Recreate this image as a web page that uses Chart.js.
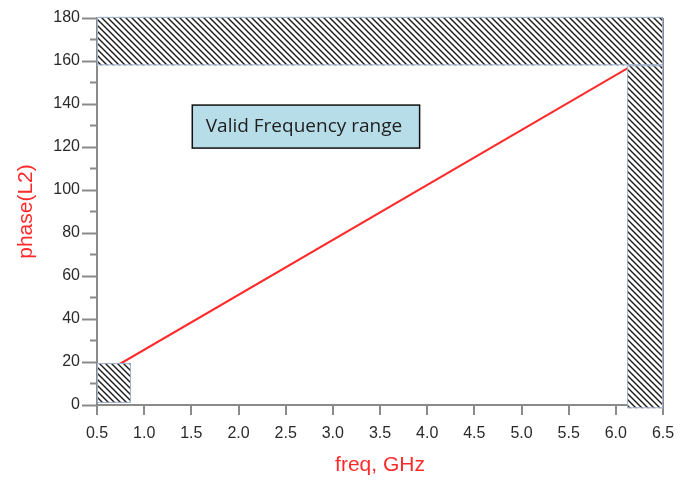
<!DOCTYPE html>
<html>
<head>
<meta charset="utf-8">
<script src="https://cdn.jsdelivr.net/npm/chart.js@4.4.0/dist/chart.umd.min.js"></script>
<style>
body { margin: 0; background: #fff; }
#wrap { width: 680px; height: 482px; }
</style>
</head>
<body>
<div id="wrap"><canvas id="phaseChart"></canvas></div>
<script>
// sweep endpoints: freq (GHz) and phase(L2) (deg)
var freq = [0.5, 6.5];
var phase = [12.9, 166.2];

// hatched out-of-range zones: [freqFrom, freqTo, phaseFrom, phaseTo]
var zoneTop = [0.5, 6.5, 158, 180.5];
var zoneRight = [6.12, 6.5, -1.5, 158];
var zoneLeft = [0.5, 0.86, 1, 19.5];

// note box
var noteBox = [1.51, 3.92, 119.5, 139.5];
var noteText = "Valid Frequency range";

var axisGray = '#8a8a8a';
var points = freq.map(function(f, i) { return { x: f, y: phase[i] }; });

function makeHatch(ctx) {
    var c = document.createElement('canvas');
    c.width = 6;
    c.height = 6;
    var g = c.getContext('2d');
    g.fillStyle = '#fff';
    g.fillRect(0, 0, 6, 6);
    g.strokeStyle = '#1a1a1a';
    g.lineWidth = 1.4;
    g.beginPath();
    g.moveTo(-1, -1); g.lineTo(7, 7);
    g.moveTo(-1, 5); g.lineTo(1, 7);
    g.moveTo(5, -1); g.lineTo(7, 1);
    g.stroke();
    return ctx.createPattern(c, 'repeat');
}

var zonesPlugin = {
    id: 'zones',
    afterDatasetsDraw: function(chart) {
        var ctx = chart.ctx;
        var xs = chart.scales.x, ys = chart.scales.y;
        var hatch = makeHatch(ctx);
        ctx.save();
        [zoneTop, zoneRight, zoneLeft].forEach(function(z) {
            var x0 = xs.getPixelForValue(z[0]), x1 = xs.getPixelForValue(z[1]);
            var y0 = ys.getPixelForValue(z[3]), y1 = ys.getPixelForValue(z[2]);
            ctx.fillStyle = hatch;
            ctx.fillRect(x0, y0, x1 - x0, y1 - y0);
            ctx.strokeStyle = '#9fb0cc';
            ctx.lineWidth = 1;
            ctx.strokeRect(x0 + 0.5, y0 + 0.5, x1 - x0 - 1, y1 - y0 - 1);
        });

        var bx0 = xs.getPixelForValue(noteBox[0]), bx1 = xs.getPixelForValue(noteBox[1]);
        var by0 = ys.getPixelForValue(noteBox[3]), by1 = ys.getPixelForValue(noteBox[2]);
        ctx.fillStyle = '#b7dde8';
        ctx.fillRect(bx0, by0, bx1 - bx0, by1 - by0);
        ctx.strokeStyle = '#111';
        ctx.lineWidth = 1.5;
        ctx.strokeRect(bx0, by0, bx1 - bx0, by1 - by0);
        ctx.fillStyle = '#1e1e1e';
        ctx.font = '19px "Open Sans"';
        ctx.textAlign = 'center';
        ctx.textBaseline = 'middle';
        ctx.fillText(noteText, (bx0 + bx1) / 2 - 2, (by0 + by1) / 2);
        ctx.restore();
    }
};

new Chart(document.getElementById('phaseChart'), {
    type: 'line',
    data: {
        datasets: [{
            data: points,
            borderColor: '#ff2b2b',
            borderWidth: 2,
            pointRadius: 0,
            tension: 0
        }]
    },
    plugins: [zonesPlugin],
    options: {
        responsive: true,
        maintainAspectRatio: false,
        animation: false,
        layout: { padding: { top: 18, right: 17, left: 0, bottom: 0 } },
        plugins: {
            legend: { display: false },
            tooltip: { enabled: false }
        },
        scales: {
            x: {
                type: 'linear',
                min: 0.5,
                max: 6.5,
                z: 1,
                afterFit: function(s) {
                    s.height = 77;
                    s.paddingLeft = 0;
                    s.paddingRight = 0;
                },
                border: { color: axisGray, width: 2 },
                grid: {
                    drawOnChartArea: true,
                    lineWidth: 2,
                    color: function(c) { return c.tick && c.tick.value === 6.5 ? axisGray : 'rgba(0,0,0,0)'; },
                    tickColor: axisGray,
                    tickWidth: 2,
                    tickLength: 10
                },
                ticks: {
                    stepSize: 0.5,
                    padding: 9,
                    maxRotation: 0,
                    color: '#2a2a2a',
                    font: { family: '"Liberation Sans", Arial', size: 16 },
                    callback: function(v) { return v.toFixed(1); }
                },
                title: {
                    display: true,
                    text: 'freq, GHz',
                    color: '#ff2b2b',
                    font: { family: '"Liberation Sans", Arial', size: 21 },
                    padding: { top: 0, bottom: 4 }
                }
            },
            y: {
                min: 0,
                max: 180,
                z: 1,
                afterFit: function(s) {
                    s.width = 97;
                    s.paddingTop = 0;
                    s.paddingBottom = 0;
                },
                border: { color: axisGray, width: 2 },
                grid: {
                    drawOnChartArea: false,
                    tickColor: axisGray,
                    tickWidth: 2,
                    tickLength: 15,
                    // minor ticks only show their inner 7px
                    tickBorderDash: function(c) {
                        return c.tick && c.tick.value % 20 !== 0 ? [0, 8, 8, 100] : [];
                    }
                },
                ticks: {
                    stepSize: 10,
                    autoSkip: false,
                    padding: 2,
                    color: '#2a2a2a',
                    font: { family: '"Liberation Sans", Arial', size: 16 },
                    callback: function(v) { return v % 20 === 0 ? v : ''; }
                },
                title: {
                    display: true,
                    text: 'phase(L2)',
                    color: '#ff2b2b',
                    font: { family: '"Liberation Sans", Arial', size: 21 },
                    padding: { top: 14, bottom: 0 }
                }
            }
        }
    }
});
</script>
</body>
</html>
